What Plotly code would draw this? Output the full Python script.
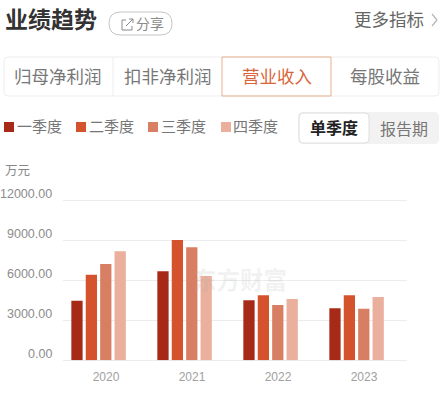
import plotly.graph_objects as go

W = 445
H = 400

years = ["2020", "2021", "2022", "2023"]
q1 = [4475, 6675, 4500, 3900]
q2 = [6425, 9025, 4875, 4875]
q3 = [7225, 8475, 4150, 3875]
q4 = [8175, 6325, 4600, 4750]
quarters = ["一季度", "二季度", "三季度", "四季度"]
colors = ["#a72a18", "#d4532d", "#d87f63", "#ebaf9d"]
y_ticks = [0, 3000, 6000, 9000, 12000]
y_tick_labels = ["0.00", "3000.00", "6000.00", "9000.00", "12000.00"]
tabs = ["归母净利润", "扣非净利润", "营业收入", "每股收益"]

FONT = "Noto Sans CJK SC"
GRID = "#eaeced"


def px(x):
    return x / W


def py(y):
    return 1 - y / H


def rrect(x0, y0, x1, y1, r):
    # rounded box as an svg path, in paper coordinates
    a, b, c, d = px(x0), px(x1), py(y0), py(y1)
    rx, ry = r / W, r / H
    return (f"M{a + rx},{c} L{b - rx},{c} Q{b},{c} {b},{c - ry} L{b},{d + ry} Q{b},{d} {b - rx},{d} "
            f"L{a + rx},{d} Q{a},{d} {a},{d + ry} L{a},{c - ry} Q{a},{c} {a + rx},{c} Z")


def box(x0, y0, x1, y1, r, fill="rgba(0,0,0,0)", line="rgba(0,0,0,0)", width=1):
    return dict(type="path", xref="paper", yref="paper", path=rrect(x0, y0, x1, y1, r),
                fillcolor=fill, line=dict(color=line, width=width), layer="below")


def seg(x0, y0, x1, y1, color, width=1):
    return dict(type="line", xref="paper", yref="paper", x0=px(x0), x1=px(x1), y0=py(y0), y1=py(y1),
                line=dict(color=color, width=width), layer="below")


def label(text, x, y, size, color, anchor="left", bold=False):
    if bold:
        text = f"<b>{text}</b>"
    # annotations sit a little right of and below the asked spot with this font
    if anchor == "left":
        x -= 2.5
    return dict(text=text, xref="paper", yref="paper", x=px(x), y=py(y - 1), xanchor=anchor, yanchor="middle",
                showarrow=False, font=dict(family=FONT, size=size, color=color))


fig = go.Figure()
for i, values in enumerate([q1, q2, q3, q4]):
    fig.add_trace(go.Bar(x=years, y=values, name=quarters[i], marker=dict(color=colors[i], line=dict(width=0)),
                         width=0.131, offset=-0.403 + i * 0.1675))

shapes = [
    box(109, 12, 172, 35, 11.5, line="#c4c4c4"),
    # share icon
    seg(122, 20, 126, 20, "#8a8a8a"), seg(122, 20, 122, 30, "#8a8a8a"), seg(122, 30, 132, 30, "#8a8a8a"),
    seg(132, 30, 132, 26, "#8a8a8a"), seg(126, 26, 133, 19, "#8a8a8a"), seg(129, 19, 133, 19, "#8a8a8a"),
    seg(133, 19, 133, 23, "#8a8a8a"),
    # chevron
    seg(432, 14, 437, 20, "#b5b5b5", 1.2), seg(437, 20, 432, 26, "#b5b5b5", 1.2),
    # tabs
    box(4, 57, 439, 96, 4, fill="#ffffff", line="#ededed"),
    seg(113, 57, 113, 96, "#ededed"),
    dict(type="rect", xref="paper", yref="paper", x0=px(222), x1=px(331), y0=py(57), y1=py(96),
         line=dict(color="#e8b08f", width=1), layer="below"),
    # toggle
    box(298, 112, 439, 144, 5, fill="#f2f2f2"),
    box(299, 113, 369, 143, 4, fill="#ffffff", line="#dedede"),
]

legend_x = [4, 76, 148, 221]
for i, x in enumerate(legend_x):
    shapes.append(dict(type="rect", xref="paper", yref="paper", x0=px(x), x1=px(x + 10), y0=py(122), y1=py(132),
                       fillcolor=colors[i], line=dict(width=0), layer="below"))

notes = [
    label("业绩趋势", 5, 19, 23, "#333333", bold=True),
    label("分享", 136, 24, 14, "#8a8a8a"),
    label("更多指标", 354, 19, 17.5, "#666666"),
    label(tabs[0], 58, 76, 17.5, "#777777", "center"),
    label(tabs[1], 168, 76, 17.5, "#777777", "center"),
    label(tabs[2], 277, 76, 17.5, "#d9663a", "center"),
    label(tabs[3], 385, 76, 17.5, "#777777", "center"),
    label("单季度", 334, 128, 16, "#222222", "center", bold=True),
    label("报告期", 404, 129, 16, "#777777", "center"),
    label("万元", 5, 170, 12.5, "#888888"),
    label("东方财富", 240, 280, 23.5, "rgba(170,170,170,0.16)", "center", bold=True),
]
for i, x in enumerate(legend_x):
    notes.append(label(quarters[i], x + 13, 127, 15, "#777777"))
for t, s in zip(y_ticks, y_tick_labels):
    notes.append(dict(text=s, xref="paper", yref="y", x=px(54), y=t, xanchor="right", yanchor="middle", yshift=6,
                      showarrow=False, font=dict(family="Liberation Sans", size=12.5, color="#8c8c8c")))

fig.update_layout(
    width=W, height=H, margin=dict(l=0, r=0, t=0, b=0), showlegend=False,
    paper_bgcolor="#ffffff", plot_bgcolor="#ffffff", barmode="overlay",
    shapes=shapes, annotations=notes,
    xaxis=dict(domain=[px(63), px(407)], type="category", showgrid=False, showline=False, zeroline=False, ticks="",
               ticklabelstandoff=8, tickfont=dict(family="Liberation Sans", size=12, color="#a0a0a0")),
    # 3px of headroom, plotly drops a gridline that is right at the end of the axis
    yaxis=dict(domain=[py(360.3), py(197.3)], range=[0, 12225], tickvals=y_ticks, showticklabels=False,
               gridcolor=GRID, gridwidth=1, zeroline=True, zerolinecolor=GRID, zerolinewidth=1,
               showline=False, ticks=""),
)
fig.write_html("out.html", config=dict(displayModeBar=False),
               post_script="document.body.style.margin='0';document.documentElement.style.overflow='hidden';")
